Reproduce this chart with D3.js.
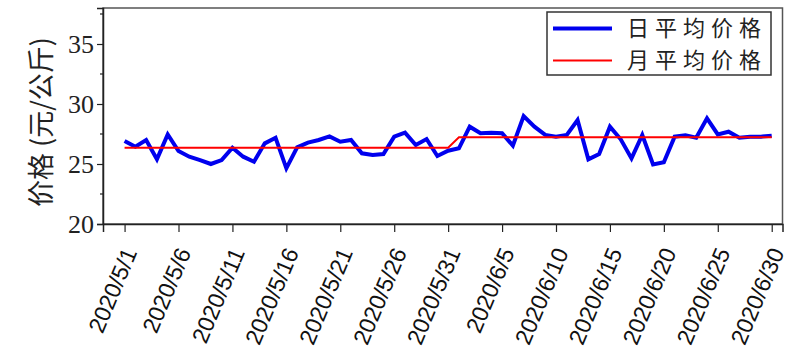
<!DOCTYPE html>
<html>
<head>
<meta charset="utf-8">
<script src="https://cdn.jsdelivr.net/npm/d3@7"></script>
<style>
  body { margin: 0; background: #fff; }
  svg { display: block; }
</style>
</head>
<body>
<div id="container"></div>
<script>
const width = 800
const height = 363

// daily average price, 2020/5/1 .. 2020/6/30
const dailyPrice = [
    26.92, 26.44, 27.0, 25.39, 27.47, 26.08, 25.61, 25.33, 25.0, 25.33,
    26.36, 25.61, 25.19, 26.72, 27.19, 24.64, 26.39, 26.78, 27.0, 27.3,
    26.86, 27.0, 25.89, 25.75, 25.83, 27.28, 27.61, 26.58, 27.08, 25.67,
    26.11,
    26.31, 28.11, 27.56, 27.61, 27.56, 26.53, 29.0, 28.11, 27.42, 27.28,
    27.42, 28.67, 25.39, 25.83, 28.11, 27.06, 25.47, 27.42, 24.97, 25.14,
    27.28, 27.39, 27.19, 28.81, 27.47, 27.69, 27.19, 27.28, 27.28, 27.36
]
const months = [5, 6]
const monthAvg = [26.36, 27.22]
const yTicks = [20, 25, 30, 35]
const xTickLabels = ['2020/5/1', '2020/5/6', '2020/5/11', '2020/5/16', '2020/5/21', '2020/5/26',
    '2020/5/31', '2020/6/5', '2020/6/10', '2020/6/15', '2020/6/20', '2020/6/25', '2020/6/30']
const seriesNames = ['日平均价格', '月平均价格']

const parse = d3.timeParse('%Y/%m/%d')
const days = d3.timeDay.range(parse('2020/5/1'), parse('2020/7/1'))
const daily = days.map((d, i) => ({ date: d, value: dailyPrice[i] }))
const monthly = days.map(d => ({ date: d, value: monthAvg[months.indexOf(d.getMonth() + 1)] }))

const plot = { left: 103, right: 782.5, top: 8, bottom: 224 }

const svg = d3.select('div#container').append('svg')
    .attr('width', width)
    .attr('height', height)

//----------------------------SCALES----------------------------//
const xScale = d3.scaleTime()
    .domain([parse('2020/4/29'), parse('2020/7/1')])
    .range([plot.left, plot.right])
const yScale = d3.scaleLinear()
    .domain([20, 38])
    .range([plot.bottom, plot.top])

// frame
svg.append('rect')
    .attr('x', plot.left)
    .attr('y', plot.top)
    .attr('width', plot.right - plot.left)
    .attr('height', plot.bottom - plot.top)
    .attr('fill', 'none')
    .attr('stroke', '#555')
    .attr('stroke-width', 1.5)

//-----------------------------AXES-----------------------------//
const yaxis = d3.axisLeft(yScale)
    .tickValues(yTicks)
    .tickSize(6)
    .tickPadding(3)
    .tickFormat(d3.format('d'))

const gy = svg.append('g')
    .attr('transform', 'translate(' + plot.left + ',0)')
    .call(yaxis)
gy.select('.domain').attr('stroke', '#222').attr('stroke-width', 1.5)
gy.selectAll('.tick line').attr('stroke', '#222').attr('stroke-width', 1.2)
gy.selectAll('.tick text')
    .style('font-family', '"Liberation Serif", "Times New Roman", serif')
    .style('font-size', '26px')
    .attr('fill', '#222')

// minor y ticks
gy.selectAll('.minor')
    .data(yTicks.map(t => t + 2.5))
    .enter()
    .append('line')
    .attr('class', 'minor')
    .attr('x1', -3).attr('x2', 0)
    .attr('y1', d => yScale(d)).attr('y2', d => yScale(d))
    .attr('stroke', '#222')
    .attr('stroke-width', 1.2)

const xaxis = d3.axisBottom(xScale)
    .tickValues(xTickLabels.map(parse))
    .tickSize(8)
    .tickFormat(d3.timeFormat('%Y/%-m/%-d'))

const gx = svg.append('g')
    .attr('transform', 'translate(0,' + plot.bottom + ')')
    .call(xaxis)
gx.select('.domain').attr('stroke', '#222').attr('stroke-width', 1.5)
gx.selectAll('.tick line').attr('stroke', '#222').attr('stroke-width', 1.2)
gx.selectAll('.tick text')
    .style('font-family', '"Liberation Sans", Arial, sans-serif')
    .style('font-size', '23px')
    .attr('fill', '#111')
    .style('text-anchor', 'end')
    .attr('y', 0)
    .attr('dy', '0.35em')
    .attr('transform', 'translate(5,25) rotate(-67)')

svg.append('text')
    .attr('transform', 'translate(51,' + ((plot.top + plot.bottom) / 2 + 6) + ') rotate(-90)')
    .attr('text-anchor', 'middle')
    .style('font-family', '"Noto Sans CJK SC", sans-serif')
    .style('font-size', '27px')
    .attr('fill', '#222')
    .text('价格 (元/公斤)')

//----------------------------LINES-----------------------------//
const line = d3.line()
    .x(d => xScale(d.date))
    .y(d => yScale(d.value))

svg.append('path')
    .datum(daily)
    .attr('fill', 'none')
    .attr('stroke', '#0000ee')
    .attr('stroke-width', 4)
    .attr('stroke-linejoin', 'miter')
    .attr('d', line)

svg.append('path')
    .datum(monthly)
    .attr('fill', 'none')
    .attr('stroke', '#ff0000')
    .attr('stroke-width', 2)
    .attr('d', line)

//----------------------------LEGEND----------------------------//
const legend = svg.append('g')
legend.append('rect')
    .attr('x', 547).attr('y', 12)
    .attr('width', 224).attr('height', 63)
    .attr('fill', '#fff')
    .attr('stroke', '#333')
    .attr('stroke-width', 1.5)

const legendColors = ['#0000ee', '#ff0000']
const legendWidths = [4, 2]
seriesNames.forEach((name, i) => {
    const y = 28.5 + i * 32
    legend.append('line')
        .attr('x1', 553).attr('x2', 612)
        .attr('y1', y).attr('y2', y)
        .attr('stroke', legendColors[i])
        .attr('stroke-width', legendWidths[i])
    legend.append('text')
        .attr('x', 627).attr('y', y)
        .attr('dy', '0.36em')
        .style('font-family', '"Noto Sans CJK SC", sans-serif')
        .style('font-size', '22px')
        .style('letter-spacing', '6px')
        .attr('fill', '#222')
        .text(name)
})
</script>
</body>
</html>
